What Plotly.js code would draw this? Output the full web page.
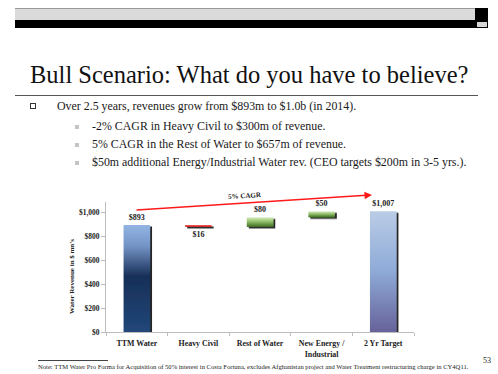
<!DOCTYPE html>
<html>
<head>
<meta charset="utf-8">
<script src="https://cdn.plot.ly/plotly-3.0.1.min.js"></script>
<style>
  html, body { margin: 0; padding: 0; background: #fff; }
  #slide { position: relative; width: 498px; height: 374px; overflow: hidden; font-family: "Liberation Serif", "Times New Roman", serif; color: #111; }
  #chart { position: absolute; left: 0; top: 0; width: 498px; height: 374px; }
  .abs { position: absolute; white-space: nowrap; font-family: "Liberation Serif", "Times New Roman", serif; }
  .bul { font-size: 11.9px; line-height: 14px; color: #1a1a1a; }
</style>
</head>
<body>
<div id="slide">
  <div class="abs" style="left:15px;top:8px;width:460px;height:12px;background:#dadada;box-sizing:border-box;border-top:1px solid #9a9a9a;"></div>
  <div class="abs" style="left:15px;top:20px;width:473px;height:8px;background:#000;"></div>
  <div class="abs" style="left:475px;top:8px;width:13px;height:12px;background:#000;"></div>
  <div class="abs" style="left:477px;top:22px;width:10px;height:5px;background:#d6d6d6;"></div>

  <div class="abs" style="left:30px;top:60px;font-size:24.5px;line-height:30px;color:#111;">Bull Scenario: What do you have to believe?</div>
  <div class="abs" style="left:15px;top:95px;width:463px;height:1px;background:#555;"></div>

  <div class="abs" style="left:30px;top:103px;width:4px;height:4px;border:1px solid #333;"></div>
  <div class="abs bul" style="left:57px;top:99px;">Over 2.5 years, revenues grow from $893m to $1.0b (in 2014).</div>

  <div class="abs" style="left:75px;top:125px;width:4px;height:4px;background:#c4c4c4;"></div>
  <div class="abs bul" style="left:92px;top:119px;">-2% CAGR in Heavy Civil to $300m of revenue.</div>

  <div class="abs" style="left:75px;top:143px;width:4px;height:4px;background:#c4c4c4;"></div>
  <div class="abs bul" style="left:92px;top:137px;">5% CAGR in the Rest of Water to $657m of revenue.</div>

  <div class="abs" style="left:75px;top:161px;width:4px;height:4px;background:#c4c4c4;"></div>
  <div class="abs bul" style="left:92px;top:155px;">$50m additional Energy/Industrial Water rev. (CEO targets $200m in 3-5 yrs.).</div>

  <div id="chart"></div>

  <div class="abs" style="left:38px;top:360px;width:70px;height:1px;background:#444;"></div>
  <div class="abs" style="left:38px;top:363px;font-size:6.6px;line-height:8px;color:#222;">Note: TTM Water Pro Forma for Acquisition of 50% interest in Costa Fortuna, excludes Afghanistan project and Water Treatment restructuring charge in CY4Q11.</div>
  <div class="abs" style="left:483px;top:356px;font-size:8px;line-height:10px;color:#222;">53</div>
</div>

<script>
// ---- data ----
var categories = ["TTM Water", "Heavy Civil", "Rest of Water", "New Energy /<br>Industrial", "2 Yr Target"];
var measures   = ["absolute", "relative", "relative", "relative", "total"];
var values     = [893, -16, 80, 50, 1007];
var valueLabels = ["$893", "$16", "$80", "$50", "$1,007"];
var yTickVals  = [0, 200, 400, 600, 800, 1000];
var yTickText  = ["$0", "$200", "$400", "$600", "$800", "$1,000"];
var arrowLabel = "5% CAGR";
var yTitle     = "Water Revenue in $ mn's";

var serif = "Liberation Serif, Times New Roman, serif";

var trace = {
  type: "waterfall",
  x: categories,
  y: values,
  measure: measures,
  text: valueLabels,
  textposition: "outside",
  textfont: { family: serif, size: 8, color: "#222", weight: "bold" },
  constraintext: "none",
  cliponaxis: false,
  connector: { visible: false },
  increasing: { marker: { color: "#7fb050" } },
  decreasing: { marker: { color: "#e03a3a" } },
  totals: { marker: { color: "#3c5f95" } },
  hoverinfo: "none"
};

var layout = {
  width: 498, height: 374,
  margin: { l: 106, r: 84, t: 202, b: 42, pad: 0 },
  paper_bgcolor: "rgba(0,0,0,0)",
  plot_bgcolor: "rgba(0,0,0,0)",
  showlegend: false,
  waterfallgap: 0.57,
  font: { family: serif },
  xaxis: {
    type: "category",
    showline: true, linecolor: "#bdbdbd", linewidth: 1,
    ticks: "outside", tickson: "boundaries", ticklen: 3, tickcolor: "#bdbdbd",
    ticklabelstandoff: 4,
    tickfont: { family: serif, size: 7.9, color: "#222", weight: "bold" },
    showgrid: false, zeroline: false, fixedrange: true
  },
  yaxis: {
    range: [0, 1085],
    tickvals: yTickVals, ticktext: yTickText,
    showline: true, linecolor: "#bdbdbd", linewidth: 1,
    ticks: "outside", ticklen: 4, tickcolor: "#bdbdbd",
    tickfont: { family: serif, size: 7.5, color: "#222", weight: "bold" },
    showgrid: false, zeroline: false, fixedrange: true
  },
  annotations: [
    {
      xref: "paper", yref: "paper",
      x: (372 - 106) / 308, y: (332 - 195) / 130,
      ax: -237, ay: 15,
      text: "", showarrow: true,
      arrowcolor: "#ff1a1a", arrowwidth: 1.5, arrowhead: 2, arrowsize: 1, standoff: 0
    },
    {
      xref: "paper", yref: "paper",
      x: (245 - 106) / 308, y: (332 - 196) / 130,
      yanchor: "middle", xanchor: "center",
      text: "<b>" + arrowLabel + "</b>", showarrow: false, textangle: -3.6,
      font: { family: serif, size: 7, color: "#222" }
    },
    {
      xref: "paper", yref: "paper",
      x: (66 - 106) / 308, y: (332 - 277) / 130,
      text: "<b>" + yTitle + "</b>", showarrow: false, textangle: -90,
      font: { family: serif, size: 7, color: "#222" }
    }
  ]
};

Plotly.newPlot("chart", [trace], layout, { displayModeBar: false, staticPlot: true }).then(function (gd) {
  var svg = gd.querySelector("svg.main-svg");
  var NS = "http://www.w3.org/2000/svg";
  var defs = svg.querySelector("defs") || svg.insertBefore(document.createElementNS(NS, "defs"), svg.firstChild);
  function grad(id, stops) {
    var g = document.createElementNS(NS, "linearGradient");
    g.setAttribute("id", id);
    g.setAttribute("x1", "0"); g.setAttribute("y1", "0");
    g.setAttribute("x2", "0"); g.setAttribute("y2", "1");
    stops.forEach(function (s) {
      var st = document.createElementNS(NS, "stop");
      st.setAttribute("offset", s[0]);
      st.setAttribute("stop-color", s[1]);
      g.appendChild(st);
    });
    defs.appendChild(g);
  }
  grad("gStart", [["0", "#93b5e4"], ["0.2", "#7393c4"], ["0.48", "#172f58"], ["1", "#214779"]]);
  grad("gDown", [["0", "#f07070"], ["0.5", "#e03030"], ["1", "#c01818"]]);
  grad("gUp", [["0", "#d6ebc0"], ["0.45", "#8fbf68"], ["1", "#3d6c21"]]);
  grad("gEnd", [["0", "#bacce6"], ["0.5", "#8eaad7"], ["1", "#66629a"]]);
  var f = document.createElementNS(NS, "filter");
  f.setAttribute("id", "shadow");
  f.setAttribute("filterUnits", "userSpaceOnUse");
  f.setAttribute("x", "-500"); f.setAttribute("y", "-500");
  f.setAttribute("width", "2000"); f.setAttribute("height", "2000");
  var ds = document.createElementNS(NS, "feDropShadow");
  ds.setAttribute("dx", "2"); ds.setAttribute("dy", "1.5");
  ds.setAttribute("stdDeviation", "0.3");
  ds.setAttribute("flood-color", "#000"); ds.setAttribute("flood-opacity", "0.85");
  f.appendChild(ds);
  defs.appendChild(f);
  var fills = ["gStart", "gDown", "gUp", "gUp", "gEnd"];
  var paths = gd.querySelectorAll(".point path");
  paths.forEach(function (p, i) {
    if (fills[i]) p.style.fill = "url(#" + fills[i] + ")";
    p.setAttribute("filter", "url(#shadow)");
  });
});
</script>
</body>
</html>
